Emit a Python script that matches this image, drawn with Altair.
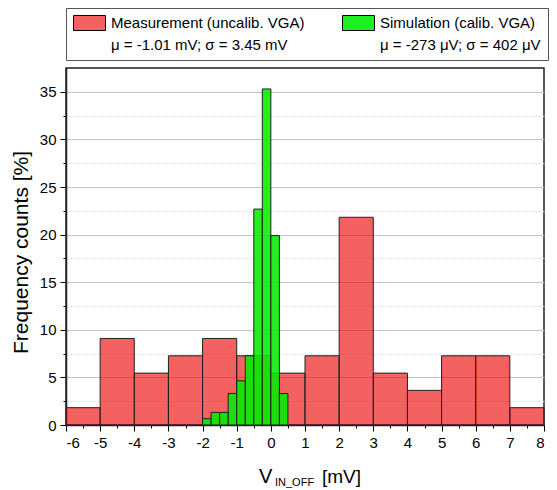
import altair as alt
import pandas as pd

# ---- data ----
meas_left = [-6, -5, -4, -3, -2, -1, 0, 1, 2, 3, 4, 5, 6, 7]
meas_pct = [1.82, 9.09, 5.45, 7.27, 9.09, 7.27, 5.45, 7.27, 21.82, 5.45, 3.64, 7.27, 7.27, 1.82]
meas_width = 1.0

sim_left = [-2.0, -1.75, -1.5, -1.25, -1.0, -0.75, -0.5, -0.25, 0.0, 0.25]
sim_pct = [0.66, 1.32, 1.32, 3.31, 4.64, 7.28, 22.68, 35.3, 19.9, 3.31]
sim_width = 0.25

series_names = [
    "Measurement (uncalib. VGA)|μ = -1.01 mV; σ = 3.45 mV",
    "Simulation (calib. VGA)|μ = -273 μV; σ = 402 μV",
]
series_colors = ["rgba(235,0,0,0.62)", "rgba(0,238,0,0.88)"]

x_ticks = [v / 2 for v in range(-12, 17)]
y_ticks = [v * 2.5 for v in range(0, 15)]

rows = []
for l, p in zip(meas_left, meas_pct):
    rows.append({"x0": l, "x1": l + meas_width, "pct": p, "series": series_names[0]})
for l, p in zip(sim_left, sim_pct):
    rows.append({"x0": l, "x1": l + sim_width, "pct": p, "series": series_names[1]})
df = pd.DataFrame(rows)

FONT = "Liberation Sans"

x_axis = alt.Axis(
    values=x_ticks,
    title=None,
    labelExpr="datum.value % 1 === 0 ? '' + datum.value : ''",
    tickSize={"condition": {"test": "datum.value % 1 === 0", "value": 6}, "value": 3},
    tickColor="black",
    labelFont=FONT, labelFontSize=15, labelColor="black", labelPadding=4,
    domainColor="#222", domainWidth=1.5, grid=False,
)
y_axis = alt.Axis(
    values=y_ticks,
    title="Frequency counts [%]",
    titleFont=FONT, titleFontSize=21, titleFontWeight="normal", titleColor="black",
    titlePadding=8, titleY=184,
    labelExpr="datum.value % 5 === 0 ? '' + datum.value : ''",
    tickSize={"condition": {"test": "datum.value % 5 === 0", "value": 6}, "value": 3},
    tickColor="black",
    labelFont=FONT, labelFontSize=15, labelColor="black", labelPadding=4,
    domainColor="#222", domainWidth=1.5,
    grid=True,
    gridColor={"condition": {"test": "datum.value % 5 === 0", "value": "#c4c4c4"}, "value": "#dcdcdc"},
    gridDash={"condition": {"test": "datum.value % 5 === 0", "value": []}, "value": [2, 2]},
    gridWidth=1,
)

legend = alt.Legend(
    title=None, orient="none", legendX=0, legendY=-60,
    direction="horizontal", columns=2, columnPadding=35,
    symbolType="M-1,-1H3.27V1H-1Z", symbolSize=225,
    symbolStrokeColor="black", symbolStrokeWidth=1,
    labelExpr="split(datum.label, '|')",
    labelFont=FONT, labelFontSize=15, labelColor="black", labelLimit=400,
    labelOffset=22,
    strokeColor="#555", fillColor="white", padding=7,
)

bars = alt.Chart(df).mark_rect(stroke="#222", strokeWidth=1).encode(
    x=alt.X("x0:Q", scale=alt.Scale(domain=[-6, 8], nice=False, zero=False), axis=x_axis),
    x2="x1:Q",
    y=alt.Y("pct:Q", scale=alt.Scale(domain=[0, 37.5], nice=False), axis=y_axis),
    y2=alt.datum(0),
    color=alt.Color("series:N", scale=alt.Scale(domain=series_names, range=series_colors), legend=legend),
)

t_v = alt.Chart(pd.DataFrame({"t": ["V"]})).mark_text(align="left", baseline="alphabetic", font=FONT, fontSize=20, color="black").encode(
    text="t:N", x=alt.value(193), y=alt.value(415))
t_sub = alt.Chart(pd.DataFrame({"t": ["IN_OFF"]})).mark_text(align="left", baseline="alphabetic", font=FONT, fontSize=11, color="black").encode(
    text="t:N", x=alt.value(209), y=alt.value(418))
t_unit = alt.Chart(pd.DataFrame({"t": ["[mV]"]})).mark_text(align="left", baseline="alphabetic", font=FONT, fontSize=19, color="black").encode(
    text="t:N", x=alt.value(256), y=alt.value(415))

chart = alt.layer(bars, t_v, t_sub, t_unit).properties(
    width=478, height=357,
    padding={"left": 58, "top": 60, "right": 5, "bottom": 64},
    autosize=alt.AutoSizeParams(type="none"),
).configure(
    style={"guide-label": {"lineHeight": 22}}
).configure_view(
    stroke="#222", strokeWidth=1.5
)

chart.save("out.html", embed_options={"renderer": "svg", "actions": False})
